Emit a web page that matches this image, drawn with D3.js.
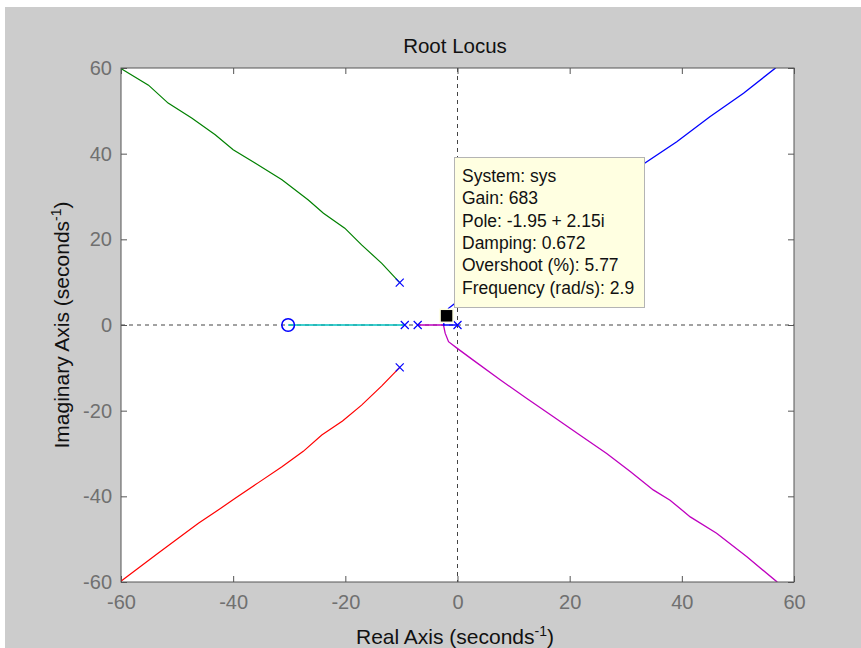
<!DOCTYPE html>
<html><head><meta charset="utf-8">
<script src="https://cdn.jsdelivr.net/npm/d3@7"></script>
<style>
html,body{margin:0;padding:0;background:#fff;}
svg{display:block;}
text{font-family:"Liberation Sans",Arial,sans-serif;}
</style></head>
<body>
<svg id="chart" width="861" height="648"></svg>
<script>
// ---- data ----
const xTicks = [-60,-40,-20,0,20,40,60];
const yTicks = [-60,-40,-20,0,20,40,60];
const branchGreen = [[-10.3,9.9],[-13.5,14.4],[-17.1,18.7],[-20.1,22.6],[-23.9,26.1],[-26.6,29.2],[-31.3,33.9],[-36.1,37.8],[-40.0,40.9],[-43.2,44.4],[-47.4,48.3],[-51.6,51.8],[-55.1,56.0],[-59.8,59.7],[-60.5,60.3]];
const branchRed = [[-10.3,-9.9],[-13.5,-14.2],[-17.1,-18.7],[-20.5,-22.4],[-24.2,-25.7],[-27.5,-29.5],[-31.3,-33.1],[-35.5,-36.8],[-39.7,-40.5],[-43.0,-43.5],[-46.2,-46.3],[-49.8,-49.8],[-53.4,-53.3],[-59.9,-59.7],[-60.5,-60.3]];
const branchMagenta = [[-7.1,0],[-2.5,0],[-2.2,-1.9],[-1.6,-3.9],[-0.1,-5.4],[2.8,-8.2],[7.6,-12.8],[12.3,-17.1],[17.1,-21.4],[21.8,-25.7],[26.6,-30.0],[30.8,-34.2],[34.9,-38.5],[37.9,-40.9],[41.5,-44.8],[46.2,-48.6],[51.6,-54.1],[56.9,-59.9],[57.3,-60.5]];
const branchBlue = [[0,0],[-2.5,0],[-2.2,1.9],[-1.6,3.9],[-0.1,5.4],[2.8,8.2],[7.6,12.8],[12.3,17.1],[17.1,21.4],[21.8,25.7],[26.6,30.0],[30.8,34.2],[33.3,37.7],[39.1,42.8],[45.0,48.6],[51.0,54.1],[56.6,59.9],[57.1,60.5]];
const branchCyan = [[-30.2,0],[-9.4,0]];
const poles = [[-10.3,9.9],[-10.3,-9.9],[-9.4,0],[-7.1,0],[0,0]];
const zeros = [[-30.2,0]];
const cursorPole = [-1.95,2.15];
const tipLines = ["System: sys","Gain: 683","Pole: -1.95 + 2.15i","Damping: 0.672","Overshoot (%): 5.77","Frequency (rad/s): 2.9"];

const svg = d3.select("#chart");
const L=121,R=794,T=68,B=582;
const x = d3.scaleLinear().domain([-60,60]).range([L,R]);
const y = d3.scaleLinear().domain([-60,60]).range([B,T]);

// figure background
svg.append("rect").attr("x",5).attr("y",7).attr("width",856).attr("height",641).attr("fill","#cccccc");
svg.append("rect").attr("x",L).attr("y",T).attr("width",R-L).attr("height",B-T).attr("fill","#fff");

svg.append("defs").append("clipPath").attr("id","clip").append("rect")
  .attr("x",L).attr("y",T).attr("width",R-L).attr("height",B-T);

// dashed zero lines
svg.append("line").attr("x1",L).attr("x2",R).attr("y1",y(0)).attr("y2",y(0))
  .attr("stroke","#444").attr("stroke-dasharray","4,4").attr("stroke-width",1);
svg.append("line").attr("x1",x(0)).attr("x2",x(0)).attr("y1",T).attr("y2",B)
  .attr("stroke","#444").attr("stroke-dasharray","4,4").attr("stroke-width",1);

// axes
const tickCol = "#707070";
const fmt = d => String(d);
function styleAxis(g){
  g.select(".domain").remove();
  g.selectAll(".tick line").attr("stroke","#555").attr("stroke-width",1);
  g.selectAll(".tick text").attr("fill",tickCol).attr("font-size","20px")
    .attr("font-family","'Liberation Sans',Arial,sans-serif");
}
svg.append("g").attr("transform",`translate(0,${B})`)
  .call(d3.axisBottom(x).tickValues(xTicks).tickSizeInner(-6).tickSizeOuter(0).tickPadding(13).tickFormat(fmt))
  .call(styleAxis);
svg.append("g").attr("transform",`translate(0,${T})`)
  .call(d3.axisTop(x).tickValues(xTicks).tickSizeInner(-6).tickSizeOuter(0).tickFormat(""))
  .call(styleAxis);
svg.append("g").attr("transform",`translate(${L},0)`)
  .call(d3.axisLeft(y).tickValues(yTicks).tickSizeInner(-6).tickSizeOuter(0).tickPadding(9).tickFormat(fmt))
  .call(styleAxis);
svg.append("g").attr("transform",`translate(${R},0)`)
  .call(d3.axisRight(y).tickValues(yTicks).tickSizeInner(-6).tickSizeOuter(0).tickFormat(""))
  .call(styleAxis);

// loci
const line = d3.line().x(d=>x(d[0])).y(d=>y(d[1]));
const plot = svg.append("g").attr("clip-path","url(#clip)");
[[branchGreen,"#008000",1.2],[branchRed,"#ff0000",1.2],[branchCyan,"#00bfbf",1.6],[branchMagenta,"#bf00bf",1.3],[branchBlue,"#0000ff",1.3]]
  .forEach(([d,c,w])=>{
    plot.append("path").datum(d).attr("d",line).attr("fill","none").attr("stroke",c).attr("stroke-width",w);
  });

// poles and zeros
const cs=4;
poles.forEach(p=>{
  const cx=x(p[0]), cy=y(p[1]);
  plot.append("path").attr("d",`M${cx-cs},${cy-cs}L${cx+cs},${cy+cs}M${cx-cs},${cy+cs}L${cx+cs},${cy-cs}`)
    .attr("stroke","#0000ff").attr("stroke-width",1.2).attr("fill","none");
});
zeros.forEach(p=>{
  plot.append("circle").attr("cx",x(p[0])).attr("cy",y(p[1])).attr("r",6.3)
    .attr("fill","none").attr("stroke","#0000ff").attr("stroke-width",1.6);
});

// frame
svg.append("rect").attr("x",L).attr("y",T).attr("width",R-L).attr("height",B-T)
  .attr("fill","none").attr("stroke","#555").attr("stroke-width",1);

// data cursor marker
svg.append("rect").attr("x",x(cursorPole[0])-6.5).attr("y",y(cursorPole[1])-6.5).attr("width",13).attr("height",13)
  .attr("fill","#000").attr("stroke","#ffffe1").attr("stroke-width",1.5);

// tooltip
const tip = svg.append("g");
tip.append("rect").attr("x",454.5).attr("y",157.5).attr("width",190).attr("height",150)
  .attr("fill","#ffffe1").attr("stroke","#b4b4b4").attr("stroke-width",1);
tip.selectAll("text.tl").data(tipLines).join("text").attr("class","tl")
  .attr("x",462).attr("y",(d,i)=>182+i*22.3).attr("font-size","17.5px").attr("fill","#111").text(d=>d);

// titles
svg.append("text").attr("x",455).attr("y",53).attr("text-anchor","middle").attr("font-size","20.5px").attr("fill","#111").text("Root Locus");
const xl = svg.append("text").attr("x",455).attr("y",644).attr("text-anchor","middle").attr("font-size","21px").attr("fill","#111");
xl.append("tspan").text("Real Axis (seconds");
xl.append("tspan").attr("dy",-8).attr("font-size","14px").text("-1");
xl.append("tspan").attr("dy",8).text(")");
const yl = svg.append("text").attr("transform","translate(69,325) rotate(-90)").attr("text-anchor","middle").attr("font-size","21px").attr("fill","#111");
yl.append("tspan").text("Imaginary Axis (seconds");
yl.append("tspan").attr("dy",-8).attr("font-size","14px").text("-1");
yl.append("tspan").attr("dy",8).text(")");
</script>
</body></html>
